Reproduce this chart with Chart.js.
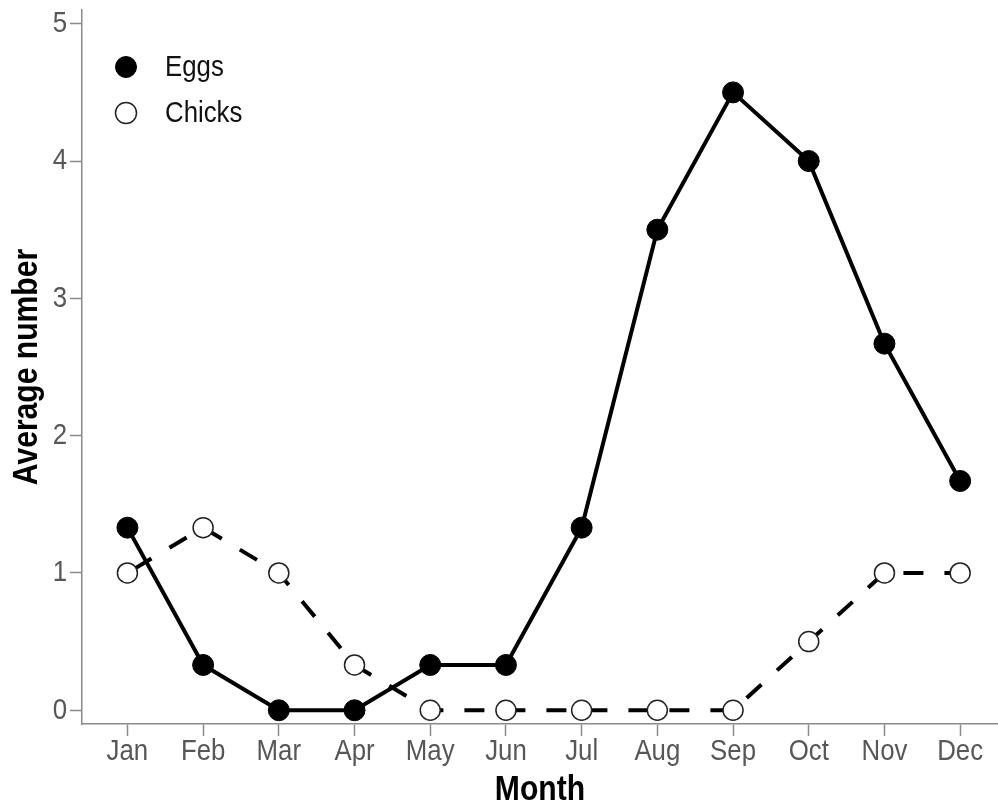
<!DOCTYPE html>
<html>
<head>
<meta charset="utf-8">
<script src="https://cdn.jsdelivr.net/npm/chart.js@4.4.1/dist/chart.umd.min.js"></script>
<style>
  html, body { margin: 0; padding: 0; background: #ffffff; }
  #wrap { width: 998px; height: 811px; }
</style>
</head>
<body>
<div id="wrap"><canvas id="chart" width="998" height="811"></canvas></div>
<script>
// Monthly averages of eggs and chicks
const months = ['Jan', 'Feb', 'Mar', 'Apr', 'May', 'Jun', 'Jul', 'Aug', 'Sep', 'Oct', 'Nov', 'Dec'];
const eggs   = [1.33, 0.33, 0, 0, 0.33, 0.33, 1.33, 3.5, 4.5, 4.0, 2.67, 1.67];
const chicks = [1, 1.33, 1, 0.33, 0, 0, 0, 0, 0, 0.5, 1, 1];
const yTicks = [0, 1, 2, 3, 4, 5];

const FONT = "'Liberation Sans', Arial, sans-serif";
const NARROW = 0.86;          // horizontal squeeze giving a narrow sans look
const AXIS_GREY = '#8a8a8a';
const LABEL_GREY = '#575757';

const toPoints = arr => arr.map((v, i) => ({ x: i, y: v }));

// Condensed text: every string is drawn at NARROW of its natural width
const canvas = document.getElementById('chart');
const c2d = canvas.getContext('2d');
const nativeFill = c2d.fillText.bind(c2d);
const nativeMeasure = c2d.measureText.bind(c2d);
c2d.fillText = function (text, x, y, maxWidth) {
  const w = nativeMeasure(text).width * NARROW;
  nativeFill(text, x, y, maxWidth === undefined ? w : Math.min(w, maxWidth));
};
c2d.measureText = function (text) {
  const m = nativeMeasure(text);
  return {
    width: m.width * NARROW,
    actualBoundingBoxAscent: m.actualBoundingBoxAscent,
    actualBoundingBoxDescent: m.actualBoundingBoxDescent,
    actualBoundingBoxLeft: m.actualBoundingBoxLeft * NARROW,
    actualBoundingBoxRight: m.actualBoundingBoxRight * NARROW
  };
};

// Legend drawn inside the plot, top-left, using each dataset's own marker style
const insideLegend = {
  id: 'insideLegend',
  afterDraw(chart) {
    const ctx = chart.ctx;
    const items = chart.data.datasets;
    const x0 = 126, y0 = 67, step = 46;
    ctx.save();
    items.forEach((ds, i) => {
      const y = y0 + i * step;
      ctx.beginPath();
      ctx.arc(x0, y, 10.5, 0, Math.PI * 2);
      ctx.fillStyle = ds.pointBackgroundColor;
      ctx.fill();
      ctx.lineWidth = ds.pointBorderWidth;
      ctx.strokeStyle = ds.pointBorderColor;
      ctx.stroke();
      ctx.fillStyle = '#111111';
      ctx.font = '30px ' + FONT;
      ctx.textAlign = 'left';
      ctx.textBaseline = 'middle';
      ctx.fillText(ds.label, 165, y + 1);
    });
    ctx.restore();
  }
};

new Chart(canvas, {
  type: 'line',
  data: {
    datasets: [
      {
        label: 'Eggs',
        data: toPoints(eggs),
        borderColor: '#000000',
        borderWidth: 4,
        borderCapStyle: 'butt',
        pointRadius: 10.5,
        pointBackgroundColor: '#000000',
        pointBorderColor: '#000000',
        pointBorderWidth: 1,
        tension: 0,
        clip: false
      },
      {
        label: 'Chicks',
        data: toPoints(chicks),
        borderColor: '#000000',
        borderWidth: 4,
        borderDash: [20, 21],
        borderDashOffset: 33,
        borderCapStyle: 'butt',
        pointRadius: 10,
        pointBackgroundColor: '#ffffff',
        pointBorderColor: '#222222',
        pointBorderWidth: 1.5,
        tension: 0,
        clip: false
      }
    ]
  },
  options: {
    responsive: false,
    animation: false,
    devicePixelRatio: 1,
    layout: { autoPadding: false, padding: { top: 10, right: 0, bottom: 0, left: 0 } },
    plugins: {
      legend: { display: false },
      tooltip: { enabled: false }
    },
    scales: {
      x: {
        type: 'linear',
        min: -0.6,
        max: 11.5,
        afterBuildTicks: s => { s.ticks = months.map((m, i) => ({ value: i })); },
        afterFit: s => { s.height = 87; s.paddingLeft = 0; s.paddingRight = 0; },
        ticks: {
          callback: v => months[v],
          autoSkip: false,
          maxRotation: 0,
          padding: 1,
          color: LABEL_GREY,
          font: { family: FONT, size: 30, lineHeight: 1 }
        },
        grid: { drawOnChartArea: false, drawTicks: true, tickLength: 12, tickColor: AXIS_GREY, tickWidth: 1.5 },
        border: { display: true, color: AXIS_GREY, width: 1.5 },
        title: {
          display: true,
          text: 'Month',
          color: '#000000',
          padding: { top: 0, bottom: 0 },
          font: { family: FONT, size: 35, weight: 'bold', lineHeight: 1.2 }
        }
      },
      y: {
        type: 'linear',
        min: -0.1,
        max: 5.1,
        afterBuildTicks: s => { s.ticks = yTicks.map(v => ({ value: v })); },
        afterFit: s => { s.width = 82; s.paddingTop = 0; s.paddingBottom = 0; },
        ticks: {
          padding: 3,
          color: LABEL_GREY,
          font: { family: FONT, size: 30, lineHeight: 1 }
        },
        grid: { drawOnChartArea: false, drawTicks: true, tickLength: 12, tickColor: AXIS_GREY, tickWidth: 1.5 },
        border: { display: true, color: AXIS_GREY, width: 1.5 },
        title: {
          display: true,
          text: 'Average number',
          color: '#000000',
          padding: { top: 6, bottom: 0 },
          font: { family: FONT, size: 35, weight: 'bold', lineHeight: 1.2 }
        }
      }
    }
  },
  plugins: [insideLegend]
});
</script>
</body>
</html>
